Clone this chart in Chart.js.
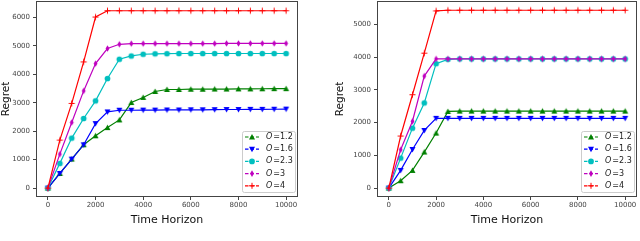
<!DOCTYPE html>
<html>
<head>
<meta charset="utf-8">
<script src="https://cdn.jsdelivr.net/npm/chart.js@4/dist/chart.umd.min.js"></script>
<style>
  body { margin: 0; background: #fff; }
  .wrap { position: absolute; top: 0; width: 320px; height: 241px; }
</style>
</head>
<body>
<div class="wrap" style="left:0"><canvas id="chart_a"></canvas></div>
<div class="wrap" style="left:320px"><canvas id="chart_b"></canvas></div>
<script>
const horizon = [0, 500, 1000, 1500, 2000, 2500, 3000, 3500, 4000, 4500, 5000,
    5500, 6000, 6500, 7000, 7500, 8000, 8500, 9000, 9500, 10000];
const labels = ["O = 1.2", "O = 1.6", "O = 2.3", "O = 3", "O = 4"];
const colors = ["#008000", "#0000ff", "#00bfbf", "#bf00bf", "#ff0000"];
const markers = ["triangle", "triangleDown", "circle", "diamond", "cross"];

const xTicks = [0, 2000, 4000, 6000, 8000, 10000];
const yTicksA = [0, 1000, 2000, 3000, 4000, 5000, 6000];
const yTicksB = [0, 1000, 2000, 3000, 4000, 5000];

// (a)
const a_o12 = [0, 515, 1020, 1525, 1840, 2130, 2400, 3010, 3190, 3400, 3470,
    3470, 3480, 3480, 3485, 3485, 3490, 3490, 3495, 3500, 3500];
const a_o16 = [0, 515, 1020, 1525, 2270, 2680, 2740, 2740, 2745, 2745, 2750,
    2750, 2755, 2755, 2760, 2765, 2765, 2770, 2770, 2775, 2780];
const a_o23 = [0, 870, 1760, 2450, 3070, 3855, 4535, 4650, 4710, 4725, 4730,
    4735, 4735, 4735, 4735, 4735, 4735, 4735, 4735, 4735, 4735];
const a_o3 = [0, 1195, 2310, 3420, 4380, 4910, 5060, 5085, 5085, 5085, 5085,
    5085, 5085, 5085, 5085, 5090, 5090, 5090, 5090, 5090, 5090];
const a_o4 = [0, 1690, 2980, 4440, 6020, 6240, 6240, 6240, 6240, 6240, 6240,
    6240, 6240, 6240, 6240, 6240, 6240, 6240, 6240, 6240, 6240];

// (b)
const b_o12 = [0, 225, 540, 1100, 1680, 2340, 2350, 2350, 2350, 2350, 2350,
    2350, 2350, 2350, 2350, 2350, 2350, 2350, 2350, 2350, 2350];
const b_o16 = [0, 540, 1180, 1760, 2130, 2130, 2130, 2130, 2130, 2130, 2130,
    2130, 2130, 2130, 2130, 2130, 2130, 2130, 2130, 2130, 2130];
const b_o23 = [0, 915, 1830, 2600, 3800, 3930, 3945, 3945, 3945, 3945, 3945,
    3945, 3945, 3945, 3945, 3945, 3945, 3945, 3945, 3945, 3945];
const b_o3 = [0, 1170, 2040, 3420, 3945, 3945, 3945, 3945, 3945, 3945, 3945,
    3945, 3945, 3945, 3945, 3945, 3945, 3945, 3945, 3945, 3945];
const b_o4 = [0, 1590, 2850, 4120, 5410, 5430, 5430, 5430, 5430, 5430, 5430,
    5430, 5430, 5430, 5430, 5430, 5430, 5430, 5430, 5430, 5430];

const FONT = "'DejaVu Sans', sans-serif";

function drawMarker(ctx, kind, x, y, color) {
    const r = 3;
    ctx.save();
    ctx.fillStyle = color;
    ctx.strokeStyle = color;
    ctx.lineWidth = 1;
    ctx.setLineDash([]);
    ctx.beginPath();
    if (kind === "triangle") {
        ctx.moveTo(x, y - r); ctx.lineTo(x + r, y + r * 0.8); ctx.lineTo(x - r, y + r * 0.8);
        ctx.closePath(); ctx.fill();
    } else if (kind === "triangleDown") {
        ctx.moveTo(x, y + r); ctx.lineTo(x + r, y - r * 0.8); ctx.lineTo(x - r, y - r * 0.8);
        ctx.closePath(); ctx.fill();
    } else if (kind === "circle") {
        ctx.arc(x, y, r * 0.95, 0, Math.PI * 2); ctx.fill();
    } else if (kind === "diamond") {
        ctx.moveTo(x, y - r * 1.1); ctx.lineTo(x + r * 0.65, y); ctx.lineTo(x, y + r * 1.1); ctx.lineTo(x - r * 0.65, y);
        ctx.closePath(); ctx.fill();
    } else {
        ctx.moveTo(x - r, y); ctx.lineTo(x + r, y); ctx.moveTo(x, y - r); ctx.lineTo(x, y + r);
        ctx.stroke();
    }
    ctx.restore();
}

// custom markers through the point style
function markerCanvas(kind, color) {
    const c = document.createElement("canvas");
    c.width = 9; c.height = 9;
    drawMarker(c.getContext("2d"), kind, 4.5, 4.5, color);
    return c;
}

const framePlugin = {
    id: "frame",
    afterDraw(chart) {
        const { ctx, chartArea: a } = chart;
        ctx.save();
        ctx.strokeStyle = "#444";
        ctx.lineWidth = 1;
        ctx.strokeRect(Math.round(a.left) + 0.5, Math.round(a.top) + 0.5,
            Math.round(a.right - a.left) - 1, Math.round(a.bottom - a.top) - 1);
        ctx.restore();
    }
};

const legendPlugin = {
    id: "boxLegend",
    afterDatasetsDraw(chart) {
        const { ctx, chartArea: a } = chart;
        const w = 53, h = 61;
        const x0 = Math.round(a.right - 3 - w), y0 = Math.round(a.bottom - 5 - h);
        ctx.save();
        ctx.fillStyle = "rgba(255,255,255,0.85)";
        ctx.strokeStyle = "#cccccc";
        ctx.lineWidth = 1;
        ctx.beginPath();
        ctx.roundRect(x0 + 0.5, y0 + 0.5, w, h, 2);
        ctx.fill(); ctx.stroke();
        labels.forEach((lab, i) => {
            const y = y0 + 6 + i * 12.2;
            ctx.strokeStyle = colors[i];
            ctx.lineWidth = 1.2;
            ctx.setLineDash([3.5, 2]);
            ctx.beginPath();
            ctx.moveTo(x0 + 3, y); ctx.lineTo(x0 + 17, y);
            ctx.stroke();
            ctx.setLineDash([]);
            drawMarker(ctx, markers[i], x0 + 10, y, colors[i]);
            ctx.fillStyle = "#222";
            ctx.textBaseline = "middle";
            ctx.font = "italic 8px " + FONT;
            ctx.fillText("O", x0 + 24, y);
            const ow = ctx.measureText("O").width;
            ctx.font = "8px " + FONT;
            ctx.fillText(lab.slice(1).replace(/ /g, ""), x0 + 24 + ow + 1, y);
        });
        ctx.restore();
    }
};

function makeChart(id, series, yMin, yMax, yTicks, yWidth, padLeft, padRight) {
    return new Chart(document.getElementById(id), {
        type: "line",
        data: {
            labels: horizon,
            datasets: series.map((s, i) => ({
                label: labels[i],
                data: horizon.map((x, j) => ({ x: x, y: s[j] })),
                borderColor: colors[i],
                backgroundColor: colors[i],
                borderWidth: 1.2,
                pointStyle: markerCanvas(markers[i], colors[i]),
                order: 5 - i,
            })),
        },
        options: {
            responsive: true,
            maintainAspectRatio: false,
            animation: false,
            layout: { autoPadding: false, padding: { top: 1, right: padRight, left: padLeft, bottom: 14 } },
            plugins: { legend: { display: false }, tooltip: { enabled: false } },
            scales: {
                x: {
                    type: "linear",
                    min: -500, max: 10500,
                    afterBuildTicks: ax => { ax.ticks = xTicks.map(v => ({ value: v })); },
                    afterFit: ax => { ax.height = 30; ax.paddingLeft = 0; ax.paddingRight = 0; },
                    grid: { drawOnChartArea: false, tickLength: 3, color: "#444" },
                    border: { display: false },
                    ticks: { color: "#444", font: { family: FONT, size: 7 }, padding: 1, maxRotation: 0,
                        callback: v => String(v) },
                    title: { display: true, text: "Time Horizon", color: "#111",
                        font: { family: FONT, size: 11 }, padding: { top: 0, bottom: 0 } },
                },
                y: {
                    min: yMin, max: yMax,
                    afterBuildTicks: ax => { ax.ticks = yTicks.map(v => ({ value: v })); },
                    afterFit: ax => { ax.width = yWidth; ax.paddingTop = 0; ax.paddingBottom = 0; },
                    grid: { drawOnChartArea: false, tickLength: 3, color: "#444" },
                    border: { display: false },
                    ticks: { color: "#444", font: { family: FONT, size: 7 }, padding: 3,
                        callback: v => String(v) },
                    title: { display: true, text: "Regret", color: "#111",
                        font: { family: FONT, size: 10.5 }, padding: { top: 0, bottom: 0 } },
                },
            },
        },
        plugins: [framePlugin, legendPlugin],
    });
}

makeChart("chart_a", [a_o12, a_o16, a_o23, a_o3, a_o4], -313, 6583, yTicksA, 36, 0, 22);
makeChart("chart_b", [b_o12, b_o16, b_o23, b_o3, b_o4], -272, 5712, yTicksB, 43, 14, 3);
</script>
</body>
</html>
